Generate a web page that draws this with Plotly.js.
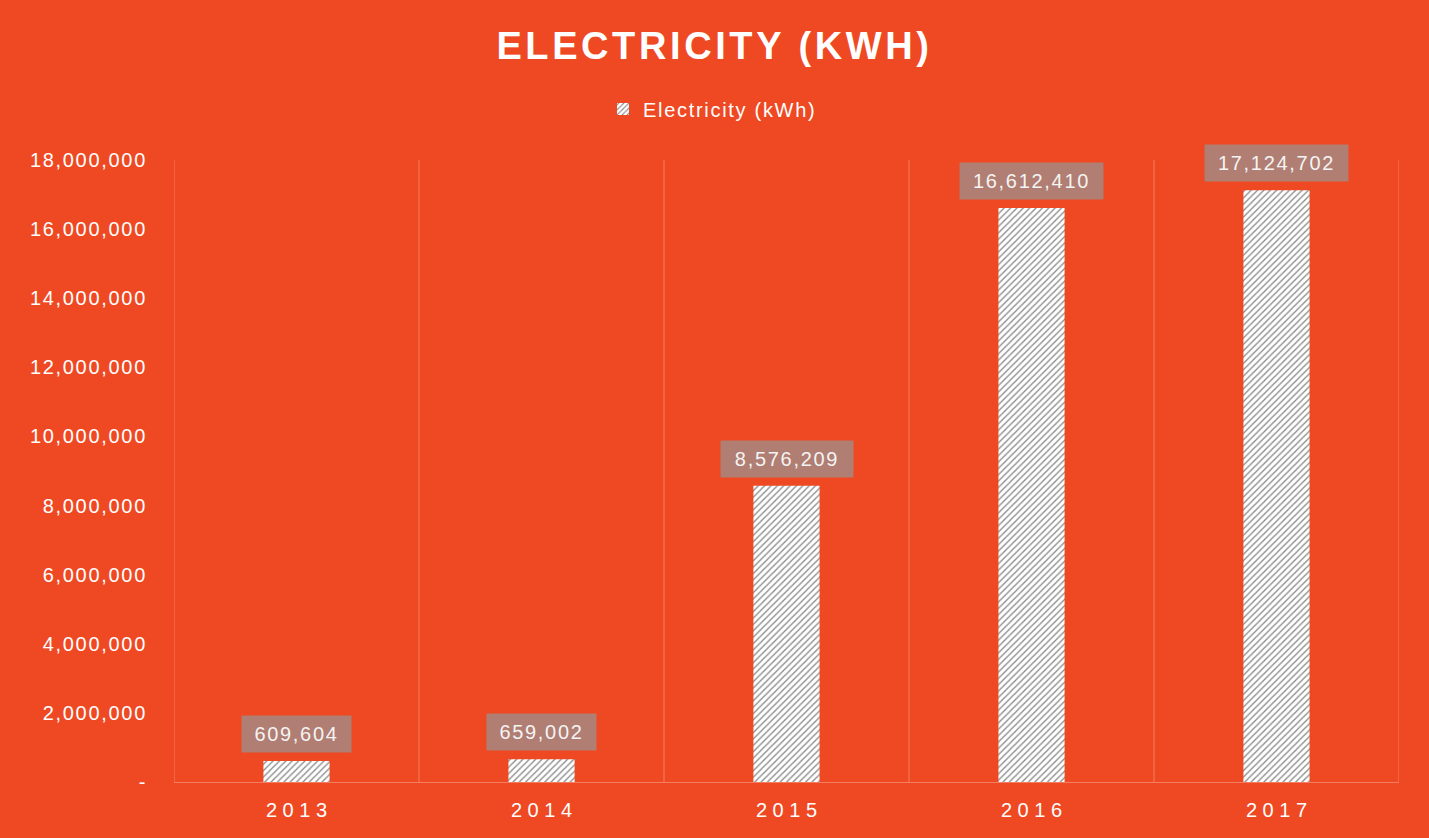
<!DOCTYPE html>
<html><head><meta charset="utf-8">
<script src="https://cdn.plot.ly/plotly-3.0.1.min.js"></script>
<style>
html,body{margin:0;padding:0;background:#EF4923;}
.ytick text, .legendtext, .annotation-text { letter-spacing: 1.7px; }
.gtitle { letter-spacing: 3.6px; }
</style>
</head><body>
<div id="chart" style="width:1429px;height:838px;"></div>
<script>
const categories = ["2013", "2014", "2015", "2016", "2017"];
const values = [609604, 659002, 8576209, 16612410, 17124702];
const seriesName = "Electricity (kWh)";
const chartTitle = "ELECTRICITY (KWH)";
const yTickVals = [0, 2000000, 4000000, 6000000, 8000000, 10000000, 12000000, 14000000, 16000000, 18000000];
const yTickText = ["-", "2,000,000", "4,000,000", "6,000,000", "8,000,000", "10,000,000", "12,000,000", "14,000,000", "16,000,000", "18,000,000"];

const bg = "#EF4923";
const gridColor = "#F57E62";
const fontFam = "Liberation Sans, Arial, sans-serif";
const fmt = v => v.toLocaleString("en-US");
const idx = categories.map((c, i) => i);

const trace = {
  type: "bar",
  x: idx,
  y: values,
  name: seriesName,
  width: 0.27,
  marker: {
    color: "#ffffff",
    line: {width: 0},
    pattern: {shape: "/", fgcolor: "#8c8c8c", bgcolor: "#ffffff", size: 4.5, solidity: 0.3}
  },
  hoverinfo: "none",
  showlegend: true
};

const annotations = categories.map((c, i) => {
  const t = fmt(values[i]);
  return {
    x: i, y: values[i], xref: "x", yref: "y",
    text: t, showarrow: false,
    xanchor: "center", yanchor: "bottom", yshift: 8,
    bgcolor: "#B07E72", borderpad: 0,
    width: Math.round(11.5 * t.length + 28), height: 36,
    font: {family: fontFam, size: 20, color: "#F4F4F4"}
  };
});

const layout = {
  width: 1429, height: 838,
  paper_bgcolor: bg, plot_bgcolor: bg,
  margin: {l: 174, r: 30, t: 160, b: 56},
  title: {
    text: "<b>" + chartTitle + "</b>",
    x: 0.5, xanchor: "center", y: 0.946, yanchor: "middle",
    font: {family: fontFam, size: 38, color: "#ffffff"}
  },
  showlegend: true,
  legend: {
    orientation: "h", x: 0.3502, xanchor: "left", y: 1.082, yanchor: "middle",
    font: {family: fontFam, size: 20, color: "#ffffff"},
    bgcolor: "rgba(0,0,0,0)"
  },
  xaxis: {
    tickvals: idx,
    ticktext: categories.map(c => c.split("").join(" ")),
    showgrid: false, zeroline: false,
    showline: true, linecolor: gridColor, linewidth: 1,
    ticks: "", ticklabelstandoff: 10,
    tickfont: {family: fontFam, size: 20, color: "#ffffff"},
    range: [-0.5, 4.5]
  },
  yaxis: {
    range: [0, 18000000],
    tickvals: yTickVals, ticktext: yTickText,
    showgrid: false, zeroline: false, showline: false,
    ticks: "", ticklabelstandoff: 26,
    tickfont: {family: fontFam, size: 20, color: "#ffffff"}
  },
  shapes: [0,1,2,3,4,5].map(k => ({
    type: "line", xref: "x", yref: "paper",
    x0: k - 0.5, x1: k - 0.5, y0: 0, y1: 1,
    line: {color: gridColor, width: 1}, layer: "below"
  })),
  annotations: annotations
};

Plotly.newPlot("chart", [trace], layout, {displayModeBar: false, staticPlot: true});
</script>
</body></html>
